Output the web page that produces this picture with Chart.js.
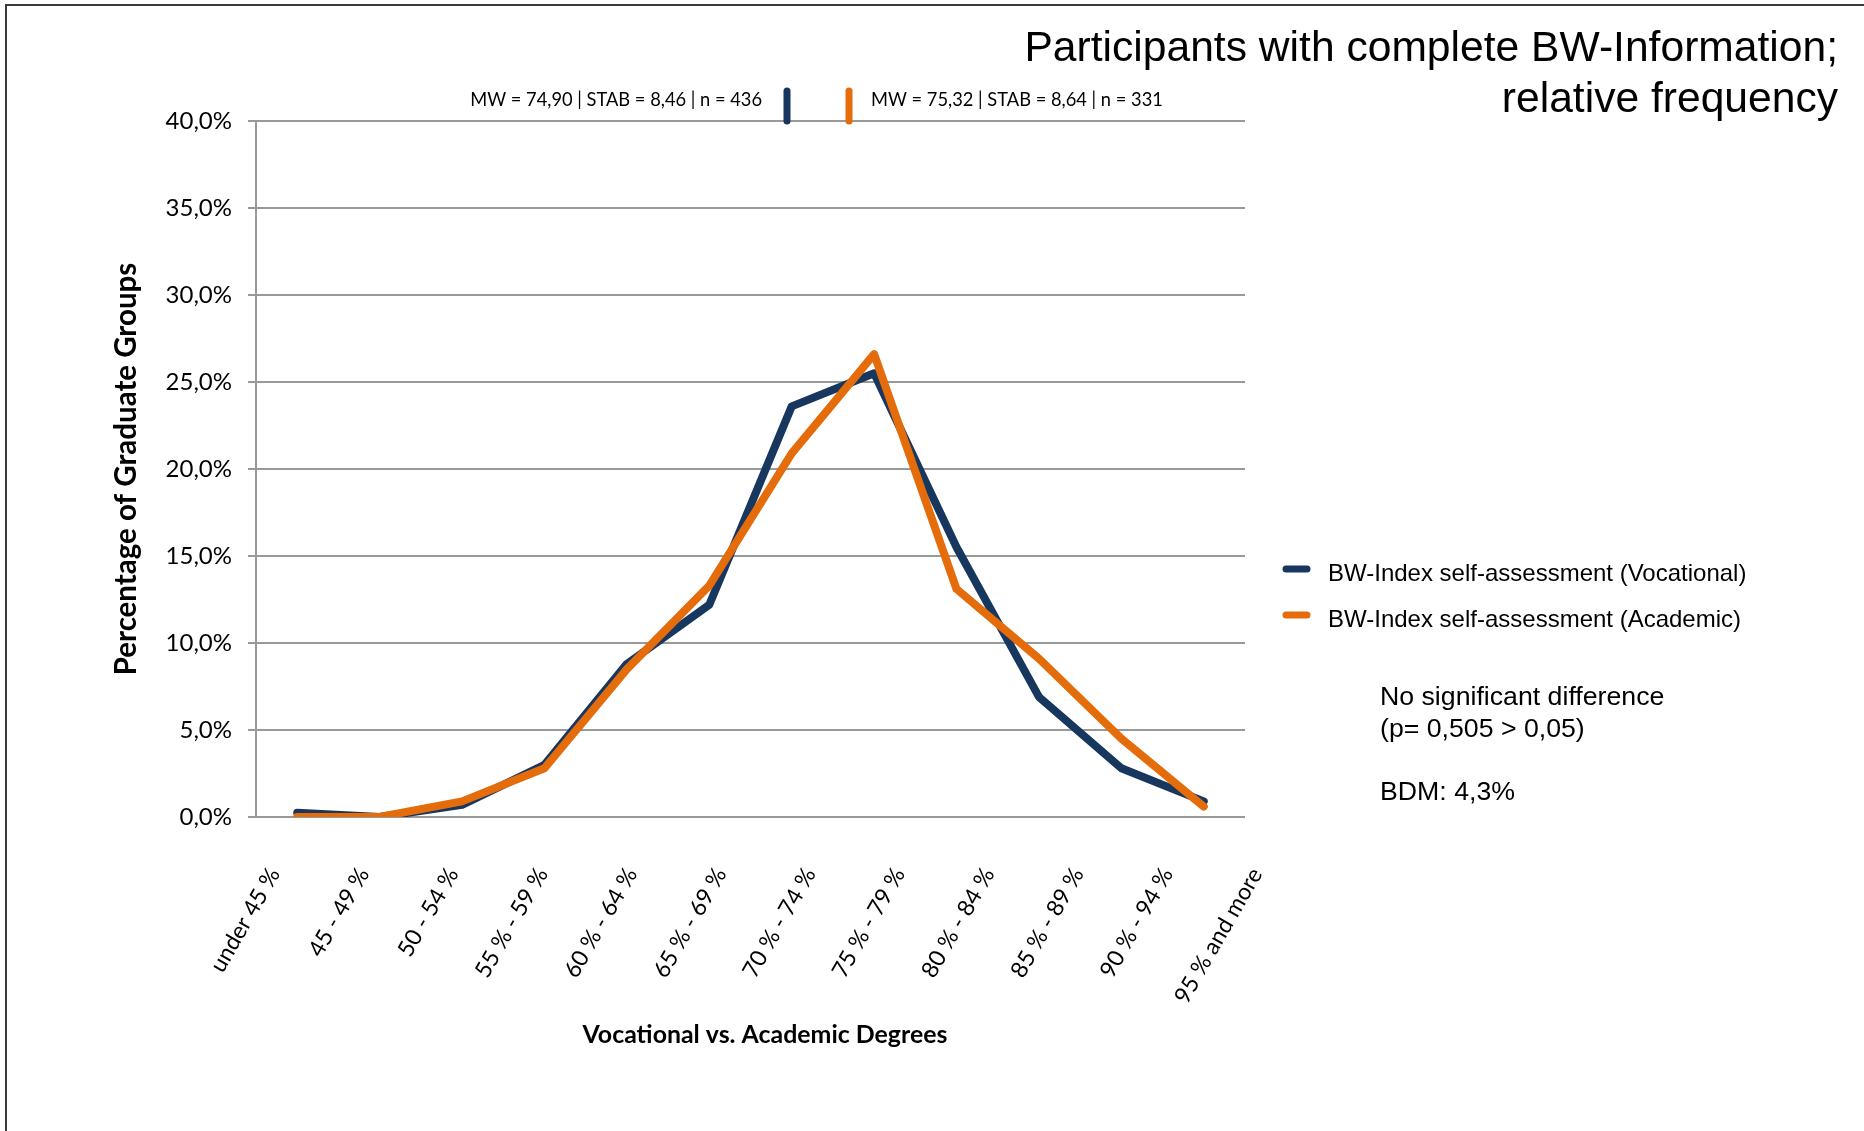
<!DOCTYPE html>
<html>
<head>
<meta charset="utf-8">
<script src="https://cdn.jsdelivr.net/npm/chart.js@4.4.1/dist/chart.umd.min.js"></script>
<style>
  html, body { margin: 0; padding: 0; background: #fff; }
  canvas { display: block; }
</style>
</head>
<body>
<canvas id="chart" width="1864" height="1131"></canvas>
<script>
const categories = ["under 45 %", "45 - 49 %", "50 - 54 %", "55 % - 59 %", "60 % - 64 %", "65 % - 69 %",
  "70 % - 74 %", "75 % - 79 %", "80 % - 84 %", "85 % - 89 %", "90 % - 94 %", "95 % and more"];
const vocational = [0.25, 0, 0.7, 3.0, 8.8, 12.2, 23.6, 25.5, 15.5, 6.9, 2.8, 0.9];
const academic = [0, 0, 0.9, 2.8, 8.5, 13.3, 20.9, 26.6, 13.1, 9.1, 4.5, 0.6];
const seriesNames = ["BW-Index self-assessment (Vocational)", "BW-Index self-assessment (Academic)"];
const statLabels = ["MW = 74,90 | STAB = 8,46 | n = 436", "MW = 75,32 | STAB = 8,64 | n = 331"];
const titleLines = ["Participants with complete BW-Information;", "relative frequency"];
const xTitle = "Vocational vs. Academic Degrees";
const notes = ["No significant difference", "(p= 0,505 > 0,05)", "BDM: 4,3%"];

const NAVY = "#17375E";
const ORANGE = "#E46C0A";
const GRID = "#999999";
const CALIBRI = "Lato, 'Open Sans', sans-serif";
const ARIAL = "'Liberation Sans', Arial, sans-serif";

// frame, title, stat labels, legend and notes
const extras = {
  id: "extras",
  afterDraw(chart) {
    const ctx = chart.ctx;
    const ds = chart.data.datasets;
    ctx.save();

    // frame
    ctx.strokeStyle = "#3a3a3a";
    ctx.lineWidth = 2;
    ctx.beginPath();
    ctx.moveTo(6, 1131);
    ctx.lineTo(6, 5);
    ctx.lineTo(1864, 5);
    ctx.stroke();

    // title
    ctx.fillStyle = "#000";
    ctx.font = "42.6px " + ARIAL;
    ctx.textAlign = "right";
    ctx.textBaseline = "middle";
    ctx.fillText(titleLines[0], 1838, 49);
    ctx.fillText(titleLines[1], 1838, 100);

    // stats above the plot
    ctx.font = "18.3px " + CALIBRI;
    ctx.textAlign = "right";
    ctx.fillText(statLabels[0], 762, 100);
    ctx.textAlign = "left";
    ctx.fillText(statLabels[1], 871, 100);
    ctx.lineCap = "round";
    ctx.lineWidth = 7;
    [[787, ds[0].borderColor], [849, ds[1].borderColor]].forEach(([x, c]) => {
      ctx.strokeStyle = c;
      ctx.beginPath();
      ctx.moveTo(x, 91);
      ctx.lineTo(x, 121);
      ctx.stroke();
    });

    // x axis title
    ctx.font = "bold 24.9px " + CALIBRI;
    ctx.textAlign = "center";
    ctx.fillText(xTitle, 765, 1035);

    // legend
    ctx.font = "24px " + ARIAL;
    ctx.textAlign = "left";
    ds.forEach((d, i) => {
      const y = 571 + i * 46;
      ctx.strokeStyle = d.borderColor;
      ctx.lineWidth = 7;
      ctx.beginPath();
      ctx.moveTo(1286, y - 2);
      ctx.lineTo(1307, y - 2);
      ctx.stroke();
      ctx.fillText(d.label, 1328, y + 3);
    });

    // notes
    ctx.font = "26.7px " + ARIAL;
    ctx.fillText(notes[0], 1380, 698);
    ctx.fillText(notes[1], 1380, 730);
    ctx.fillText(notes[2], 1380, 793);
    ctx.restore();
  }
};

new Chart(document.getElementById("chart"), {
  type: "line",
  data: {
    labels: categories,
    datasets: [
      {
        label: seriesNames[0],
        data: vocational,
        borderColor: NAVY,
        borderWidth: 8,
        pointRadius: 0,
        tension: 0,
        borderCapStyle: "round",
        borderJoinStyle: "round",
        order: 1,
      },
      {
        label: seriesNames[1],
        data: academic,
        borderColor: ORANGE,
        borderWidth: 8,
        pointRadius: 0,
        tension: 0,
        borderCapStyle: "round",
        borderJoinStyle: "round",
        order: 0,
      },
    ],
  },
  options: {
    responsive: false,
    animation: false,
    layout: { padding: { left: 0, top: 121, right: 619, bottom: 0 } },
    plugins: {
      legend: { display: false },
      tooltip: { enabled: false },
    },
    scales: {
      x: {
        offset: true,
        display: false,
      },
      // category labels sit a bit wider apart than the points in the original
      xl: {
        type: "linear",
        position: "bottom",
        min: -0.075,
        max: 11,
        afterFit: (scale) => { scale.height = 314; },
        afterBuildTicks: (scale) => { scale.ticks = categories.map((c, i) => ({ value: i })); },
        grid: { display: false },
        border: { display: false },
        ticks: {
          autoSkip: false,
          minRotation: 60,
          maxRotation: 60,
          padding: 38,
          labelOffset: 11.6,
          color: "#000",
          font: { size: 23, family: CALIBRI },
          callback: (v) => categories[v],
        },
      },
      y: {
        min: 0,
        max: 40,
        afterFit: (scale) => { scale.width = 256; },
        grid: { color: GRID, lineWidth: 2, tickLength: 8, tickColor: GRID },
        border: { display: true, color: GRID, width: 2 },
        ticks: {
          stepSize: 5,
          padding: 16,
          color: "#000",
          font: { size: 24, family: CALIBRI },
          callback: (v) => v.toFixed(1).replace(".", ",") + "%",
        },
        title: {
          display: true,
          text: "Percentage of Graduate Groups",
          color: "#000",
          font: { size: 29.5, weight: "bold", family: CALIBRI },
          padding: { top: 109, bottom: 0 },
        },
      },
    },
  },
  plugins: [extras],
});
</script>
</body>
</html>
